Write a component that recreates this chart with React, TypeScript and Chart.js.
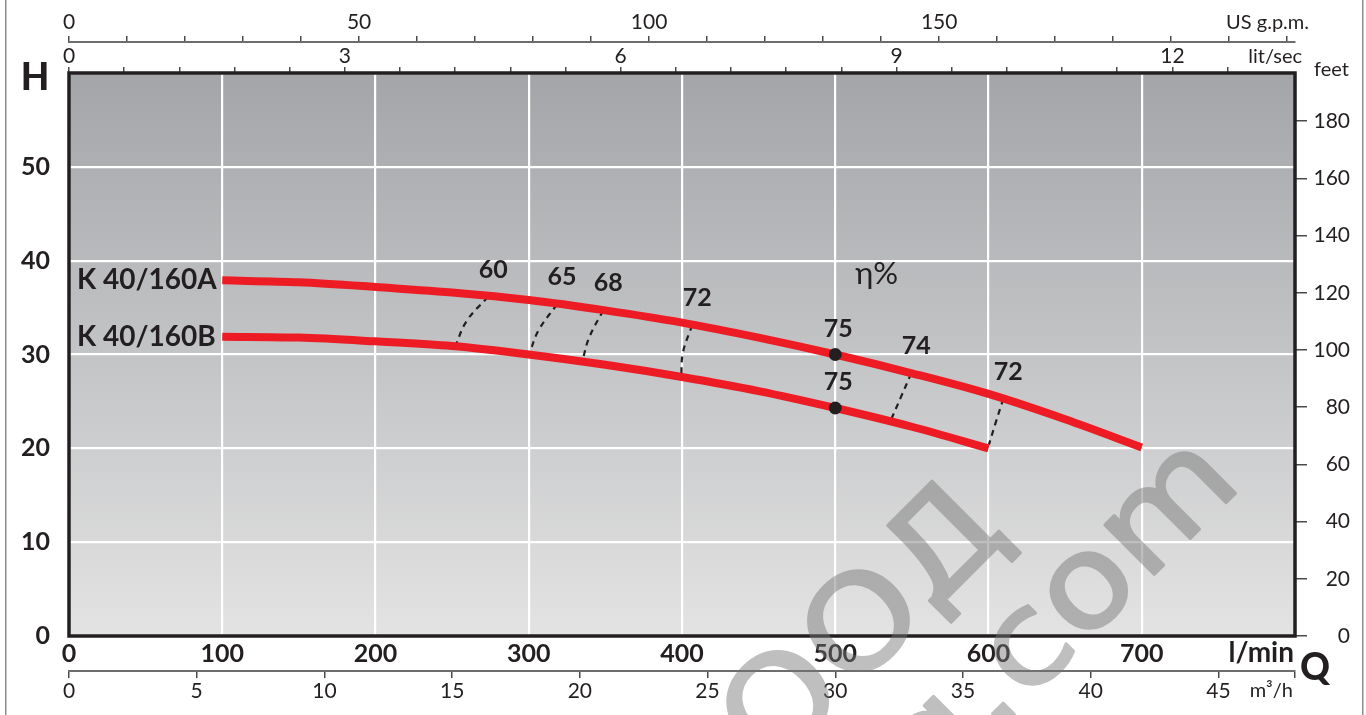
import React, { useEffect, useRef } from 'react';
import { Chart, registerables } from 'chart.js';

Chart.register(...registerables);

// ---- data (flow in l/min, head in m) ----
const curveNames = ['K 40/160A', 'K 40/160B'];
const flowA = [100, 150, 200, 250, 300, 350, 400, 450, 500, 550, 600, 650, 700];
const headA = [37.9, 37.7, 37.2, 36.6, 35.8, 34.7, 33.4, 31.8, 30.0, 28.0, 25.8, 23.1, 20.1];
const flowB = [100, 150, 200, 250, 300, 350, 400, 450, 500, 550, 600];
const headB = [31.9, 31.8, 31.4, 30.9, 30.0, 28.9, 27.6, 26.1, 24.3, 22.3, 20.0];

// iso-efficiency lines (top on curve A, middle, bottom on curve B)
const effLabels = ['60', '65', '68', '72', '74', '72'];
const effTopFlow = [273.5, 318.5, 348.6, 406.7, 549.6, 609.7];
const effTopHead = [36.15, 35.35, 34.7, 33.15, 28.0, 25.3];
const effMidFlow = [259.6, 306.3, 339.4, 400.6, 542.7, 605.0];
const effMidHead = [33.6, 32.55, 31.8, 30.2, 25.4, 22.9];
const effBotFlow = [252.0, 300.3, 334.9, 399.5, 535.9, 600.3];
const effBotHead = [30.88, 30.0, 29.23, 27.6, 22.86, 20.4];

// best efficiency points
const bestLabel = '75';
const bestFlow = [500, 500];
const bestHead = [30.0, 24.3];

// axes
const lminTicks = [0, 100, 200, 300, 400, 500, 600, 700, 800];
const lminLabels = [0, 100, 200, 300, 400, 500, 600, 700];
const headTicks = [0, 10, 20, 30, 40, 50, 60];
const headLabels = [0, 10, 20, 30, 40, 50];
const feetTicks = [0, 20, 40, 60, 80, 100, 120, 140, 160, 180];
const gpmTicks = [0, 10, 20, 30, 40, 50, 60, 70, 80, 90, 100, 110, 120, 130, 140, 150, 160, 170, 180, 190, 200, 210];
const gpmLabels = [0, 50, 100, 150];
const lsTicks = [0, 0.6, 1.2, 1.8, 2.4, 3, 3.6, 4.2, 4.8, 5.4, 6, 6.6, 7.2, 7.8, 8.4, 9, 9.6, 10.2, 10.8, 11.4, 12, 12.6];
const lsLabels = [0, 3, 6, 9, 12];
const m3hTicks = [0, 5, 10, 15, 20, 25, 30, 35, 40, 45, 48];
const m3hLabels = [0, 5, 10, 15, 20, 25, 30, 35, 40, 45];

const FLOW_MAX = 800; // l/min
const HEAD_MAX = 60; // m
const M_TO_FT = 3.28084;
const LMIN_PER_GPM = 3.78541;

const FONT = 'Lato, "DejaVu Sans", sans-serif';
const INK = '#231f20';

const has = (arr: number[], v: number) => arr.some((a) => Math.abs(a - v) < 1e-6);
const setTicks = (arr: number[]) => (s: any) => {
  s.ticks = arr.map((v) => ({ value: v }));
};

function txt(
  ctx: CanvasRenderingContext2D,
  s: string,
  x: number,
  y: number,
  font: string,
  align: CanvasTextAlign = 'center',
  color = INK
) {
  ctx.save();
  ctx.font = font;
  ctx.fillStyle = color;
  ctx.textAlign = align;
  ctx.textBaseline = 'middle';
  ctx.fillText(s, x, y);
  ctx.restore();
}

export default function App() {
  const ref = useRef<HTMLCanvasElement>(null);

  useEffect(() => {
    const canvas = ref.current;
    if (!canvas) return;

    const overlay = {
      id: 'overlay',
      beforeDraw(chart: any) {
        const { ctx, chartArea: a } = chart;
        ctx.save();
        ctx.fillStyle = '#ffffff';
        ctx.fillRect(0, 0, chart.width, chart.height);
        const g = ctx.createLinearGradient(0, a.top, 0, a.bottom);
        g.addColorStop(0, '#a3a5a8');
        g.addColorStop(0.5, '#c3c4c6');
        g.addColorStop(1, '#e3e3e3');
        ctx.fillStyle = g;
        ctx.fillRect(a.left, a.top, a.right - a.left, a.bottom - a.top);
        ctx.restore();
      },
      beforeDatasetsDraw(chart: any) {
        const { ctx, chartArea: a } = chart;
        ctx.save();
        ctx.strokeStyle = INK;
        ctx.lineWidth = 3.5;
        ctx.strokeRect(a.left, a.top, a.right - a.left, a.bottom - a.top);
        ctx.restore();
      },
      afterDatasetsDraw(chart: any) {
        const { ctx, chartArea: a } = chart;
        const xs = chart.scales.x;
        const ys = chart.scales.y;
        // curve names
        txt(ctx, curveNames[0], a.left + 8, ys.getPixelForValue(headA[0]), `bold 28px ${FONT}`, 'left');
        txt(ctx, curveNames[1], a.left + 8, ys.getPixelForValue(headB[0]), `bold 28px ${FONT}`, 'left');
        // efficiency labels
        effLabels.forEach((l, i) => {
          txt(
            ctx,
            l,
            xs.getPixelForValue(effTopFlow[i]) + 5,
            ys.getPixelForValue(effTopHead[i]) - 27,
            `bold 25px ${FONT}`
          );
        });
        bestFlow.forEach((f, i) => {
          txt(ctx, bestLabel, xs.getPixelForValue(f) + 3, ys.getPixelForValue(bestHead[i]) - 26, `bold 25px ${FONT}`);
        });
        txt(ctx, 'η%', xs.getPixelForValue(527), ys.getPixelForValue(38.55), `31px ${FONT}`);
        // units
        txt(ctx, 'US g.p.m.', a.right + 14, 23, `20px ${FONT}`, 'right');
        txt(ctx, 'lit/sec', a.right + 7, 57, `20px ${FONT}`, 'right');
        txt(ctx, 'feet', a.right + 19, 70, `20px ${FONT}`, 'left');
        txt(ctx, 'l/min', a.right - 1, 653, `bold 28px ${FONT}`, 'right');
        txt(ctx, 'm³/h', a.right - 2, 691, `20px ${FONT}`, 'right');
        txt(ctx, 'H', 35, 78, `900 37px ${FONT}`);
        txt(ctx, 'Q', 1315, 668, `900 37px ${FONT}`);
      },
      afterDraw(chart: any) {
        const { ctx } = chart;
        ctx.save();
        ctx.fillStyle = '#8c8c8c';
        ctx.fillRect(5, 0, 1.5, chart.height);
        ctx.fillRect(1362, 0, 1.5, chart.height);
        ctx.restore();

        // watermark: drawn opaque offscreen, then blended once
        const off = document.createElement('canvas');
        off.width = chart.width;
        off.height = chart.height;
        const o = off.getContext('2d');
        if (!o) return;
        o.translate(1012, 533);
        o.rotate(-Math.PI / 4);
        o.scale(1.12, 1);
        o.font = '128px "DejaVu Sans", sans-serif';
        (o as any).letterSpacing = '1px';
        o.fillStyle = '#757575';
        o.strokeStyle = '#757575';
        o.lineWidth = 3;
        o.lineJoin = 'round';
        o.textAlign = 'right';
        o.textBaseline = 'alphabetic';
        o.fillText('ООД', 0, 0);
        o.strokeText('ООД', 0, 0);
        o.fillText('bg.com', 178, 130);
        o.strokeText('bg.com', 178, 130);
        ctx.save();
        ctx.globalAlpha = 0.46;
        ctx.drawImage(off, 0, 0);
        ctx.restore();
      },
    };

    const tickFont = { family: FONT, size: 21, lineHeight: 1 };
    const boldFont = { family: FONT, size: 25, weight: 'bold' as const, lineHeight: 1 };

    const datasets: any[] = [
      {
        label: 'best',
        data: bestFlow.map((x, i) => ({ x, y: bestHead[i] })),
        showLine: false,
        pointRadius: 6.5,
        pointBackgroundColor: INK,
        pointBorderWidth: 0,
        order: 0,
      },
      {
        label: curveNames[0],
        data: flowA.map((x, i) => ({ x, y: headA[i] })),
        showLine: true,
        borderColor: '#ed1c24',
        borderWidth: 8,
        borderCapStyle: 'butt',
        pointRadius: 0,
        cubicInterpolationMode: 'monotone',
        order: 1,
      },
      {
        label: curveNames[1],
        data: flowB.map((x, i) => ({ x, y: headB[i] })),
        showLine: true,
        borderColor: '#ed1c24',
        borderWidth: 8,
        borderCapStyle: 'butt',
        pointRadius: 0,
        cubicInterpolationMode: 'monotone',
        order: 1,
      },
      ...effLabels.map((l, i) => ({
        label: 'eta ' + l,
        data: [
          { x: effTopFlow[i], y: effTopHead[i] },
          { x: effMidFlow[i], y: effMidHead[i] },
          { x: effBotFlow[i], y: effBotHead[i] },
        ],
        showLine: true,
        borderColor: INK,
        borderWidth: 2.2,
        borderDash: [6, 5],
        pointRadius: 0,
        tension: 0.4,
        order: 2,
      })),
    ];

    const chart = new Chart(canvas, {
      type: 'scatter',
      data: { datasets },
      plugins: [overlay],
      options: {
        animation: false,
        responsive: false,
        layout: { padding: { top: 5, bottom: 0, left: 0, right: 16 } },
        plugins: { legend: { display: false }, tooltip: { enabled: false } },
        scales: {
          x: {
            type: 'linear',
            position: 'bottom',
            min: 0,
            max: FLOW_MAX,
            weight: 0,
            afterBuildTicks: setTicks(lminTicks),
            afterFit: (s: any) => {
              s.height = 35;
            },
            grid: { color: '#ffffff', lineWidth: 2.2, drawTicks: false },
            border: { display: false },
            ticks: {
              padding: 5,
              font: boldFont,
              color: INK,
              maxRotation: 0,
              autoSkip: false,
              callback: (v: any) => (has(lminLabels, v) ? String(v) : ''),
            },
          },
          xM3: {
            type: 'linear',
            position: 'bottom',
            min: 0,
            max: (FLOW_MAX * 60) / 1000,
            weight: 10,
            afterBuildTicks: setTicks(m3hTicks),
            afterFit: (s: any) => {
              s.height = 44;
            },
            grid: { drawOnChartArea: false, drawTicks: true, tickLength: 7, color: '#4a4a4a', lineWidth: 1.5 },
            border: { display: true, color: '#6d6d6d', width: 2 },
            ticks: {
              padding: 3,
              font: tickFont,
              color: INK,
              maxRotation: 0,
              autoSkip: false,
              callback: (v: any) => (has(m3hLabels, v) ? String(v) : ''),
            },
          },
          xLs: {
            type: 'linear',
            position: 'top',
            min: 0,
            max: FLOW_MAX / 60,
            weight: 5,
            afterBuildTicks: setTicks(lsTicks),
            afterFit: (s: any) => {
              s.height = 31;
            },
            grid: { drawOnChartArea: false, drawTicks: true, tickLength: 6, color: '#4a4a4a', lineWidth: 1.5 },
            border: { display: false },
            ticks: {
              padding: 0,
              font: tickFont,
              color: INK,
              maxRotation: 0,
              autoSkip: false,
              callback: (v: any) => (has(lsLabels, v) ? String(Math.round(v)) : ''),
            },
          },
          xGpm: {
            type: 'linear',
            position: 'top',
            min: 0,
            max: FLOW_MAX / LMIN_PER_GPM,
            weight: 10,
            afterBuildTicks: setTicks(gpmTicks),
            afterFit: (s: any) => {
              s.height = 37;
            },
            grid: { drawOnChartArea: false, drawTicks: true, tickLength: 6, color: '#4a4a4a', lineWidth: 1.5 },
            border: { display: true, color: '#6d6d6d', width: 2 },
            ticks: {
              padding: 3,
              font: tickFont,
              color: INK,
              maxRotation: 0,
              autoSkip: false,
              callback: (v: any) => (has(gpmLabels, v) ? String(v) : ''),
            },
          },
          y: {
            type: 'linear',
            position: 'left',
            min: 0,
            max: HEAD_MAX,
            afterBuildTicks: setTicks(headTicks),
            afterFit: (s: any) => {
              s.width = 69;
            },
            grid: { color: '#ffffff', lineWidth: 2.2, drawTicks: false },
            border: { display: false },
            ticks: {
              padding: 19,
              font: boldFont,
              color: INK,
              autoSkip: false,
              callback: (v: any) => (has(headLabels, v) ? String(v) : ''),
            },
          },
          y2: {
            type: 'linear',
            position: 'right',
            min: 0,
            max: HEAD_MAX * M_TO_FT,
            afterBuildTicks: setTicks(feetTicks),
            afterFit: (s: any) => {
              s.width = 55;
            },
            grid: { drawOnChartArea: false, drawTicks: true, tickLength: 12, color: '#4a4a4a', lineWidth: 1.5 },
            border: { display: false },
            ticks: {
              padding: 0,
              crossAlign: 'far',
              font: tickFont,
              color: INK,
              autoSkip: false,
              callback: (v: any) => String(v),
            },
          },
        },
      } as any,
    });

    return () => chart.destroy();
  }, []);

  return (
    <div style={{ position: 'fixed', left: 0, top: 0, width: 1366, height: 715, background: '#fff' }}>
      <canvas ref={ref} width={1366} height={715} style={{ display: 'block' }} />
    </div>
  );
}
